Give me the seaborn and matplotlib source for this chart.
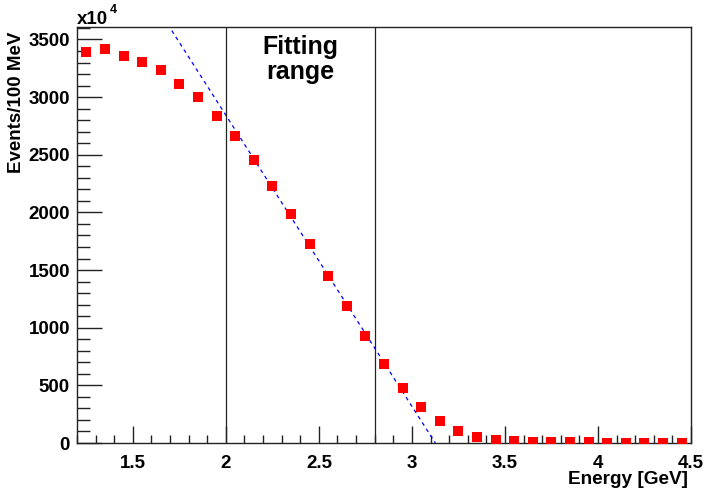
import matplotlib
matplotlib.use("Agg")
import matplotlib.pyplot as plt
import seaborn as sns
import pandas as pd
from matplotlib.ticker import MultipleLocator

# bin centres [GeV] and counts (x10^4 events / 100 MeV)
energy = [1.25, 1.35, 1.45, 1.55, 1.65, 1.75, 1.85, 1.95, 2.05, 2.15,
          2.25, 2.35, 2.45, 2.55, 2.65, 2.75, 2.85, 2.95, 3.05, 3.15,
          3.25, 3.35, 3.45, 3.55, 3.65, 3.75, 3.85, 3.95, 4.05, 4.15,
          4.25, 4.35, 4.45]
events = [3393, 3417, 3356, 3304, 3237, 3115, 2997, 2835, 2664, 2456,
          2225, 1990, 1726, 1452, 1188, 925, 688, 480, 312, 190,
          103, 51, 23, 15, 10, 8, 6, 5, 4, 3,
          3, 2, 2]

# linear fit line end points
fit_x = [1.60, 3.126]
fit_y = [3853, 0]

# fitting range edges
range_edges = [2.0, 2.8]

df = pd.DataFrame({"energy": energy, "events": events})
df_fit = pd.DataFrame({"energy": fit_x, "events": fit_y})

sns.set_style("ticks")
plt.rcParams["font.family"] = ["Liberation Sans", "DejaVu Sans"]
plt.rcParams["font.weight"] = "bold"
plt.rcParams["text.color"] = "black"
plt.rcParams["xtick.color"] = "black"
plt.rcParams["ytick.color"] = "black"
plt.rcParams["axes.labelcolor"] = "black"

fig = plt.figure(figsize=(7.05, 4.91), dpi=100)
ax = fig.add_axes([77 / 705, 48 / 491, 614 / 705, 416 / 491])

sns.lineplot(data=df_fit, x="energy", y="events", ax=ax, color="#0000ff",
             linestyle=(0, (3, 3)), linewidth=0.9)
for xe in range_edges:
    ax.plot([xe, xe], [0, 3608], color="#222222", linewidth=0.9)
sns.scatterplot(data=df, x="energy", y="events", ax=ax, marker="s", s=52,
                color="#ff0000", edgecolor="#ff0000", linewidth=0, zorder=5)

ax.set_xlim(1.2, 4.5)
ax.set_ylim(0, 3608)
ax.xaxis.set_major_locator(MultipleLocator(0.5))
ax.xaxis.set_minor_locator(MultipleLocator(0.1))
ax.yaxis.set_major_locator(MultipleLocator(500))
ax.yaxis.set_minor_locator(MultipleLocator(100))
ax.set_xticks([1.5, 2, 2.5, 3, 3.5, 4, 4.5])
ax.set_xticklabels(["1.5", "2", "2.5", "3", "3.5", "4", "4.5"])
ax.tick_params(axis="both", which="both", direction="in", top=False, right=False,
               labelsize=13.5, width=1, color="#222222", labelcolor="black")
ax.tick_params(axis="y", which="major", length=18, pad=5)
ax.tick_params(axis="y", which="minor", length=9)
ax.tick_params(axis="x", which="major", length=12, pad=9)
ax.tick_params(axis="x", which="minor", length=6)
for lab in ax.get_xticklabels() + ax.get_yticklabels():
    lab.set_fontweight("bold")
for sp in ax.spines.values():
    sp.set_visible(True)
    sp.set_linewidth(1)
    sp.set_color("#222222")

ax.set_xlabel("")
ax.set_ylabel("")
fig.text(688 / 705, 1 - 480 / 491, "Energy [GeV]", ha="right", va="center",
         fontsize=13.7, fontweight="bold")
fig.text(17 / 705, 1 - 32 / 491, "Events/100 MeV", ha="center", va="top",
         rotation=90, fontsize=13.5, fontweight="bold")
fig.text(77 / 705, 1 - 24 / 491, "x10", ha="left", va="baseline",
         fontsize=13.5, fontweight="bold")
fig.text(110 / 705, 1 - 13 / 491, "4", ha="left", va="baseline",
         fontsize=9, fontweight="bold")

ax.text(2.4, 3600 - (59 - 27) / 0.1152, "Fitting\nrange", ha="center", va="center",
        fontsize=18, fontweight="bold", linespacing=1.05)

fig.savefig("out.png", dpi=100)
